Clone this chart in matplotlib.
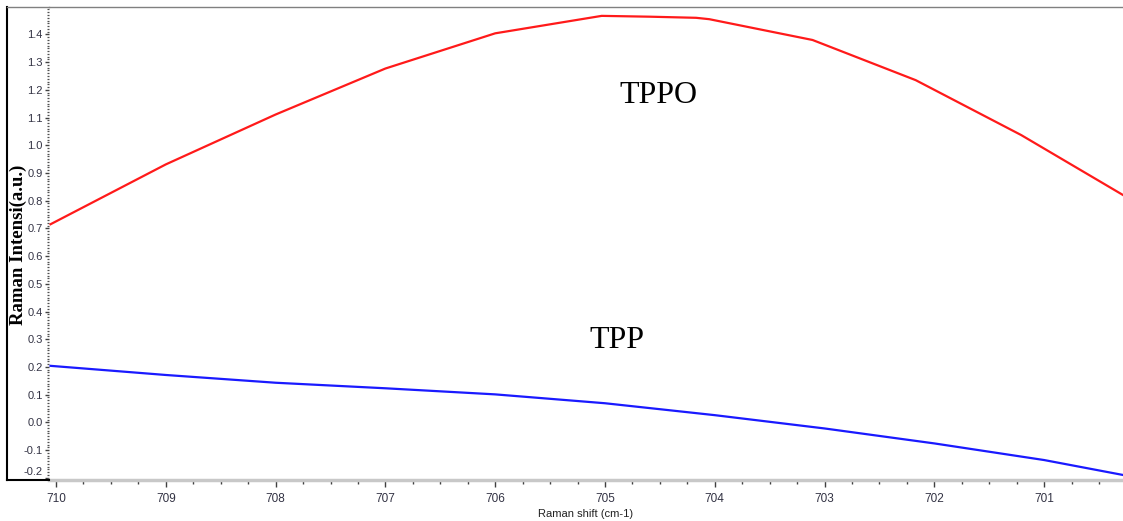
import matplotlib
matplotlib.use('Agg')
import matplotlib.pyplot as plt
import matplotlib.transforms as mtransforms
from matplotlib.lines import Line2D
from matplotlib.ticker import MultipleLocator, FormatStrFormatter

matplotlib.rcParams.update({'font.family': 'Liberation Sans',
                            'axes.unicode_minus': False})

# Raman spectra around the P-phenyl band
tppo_shift = [710.05, 709.0, 708.0, 707.0, 706.0, 705.03, 704.59, 704.17,
              704.05, 703.11, 702.17, 701.21, 700.28]
tppo_int = [0.715, 0.931, 1.111, 1.277, 1.404, 1.467, 1.464, 1.460,
            1.455, 1.380, 1.235, 1.037, 0.820]

tpp_shift = [710.05, 709.0, 708.0, 707.0, 706.0, 705.0, 704.0, 703.0,
             702.0, 701.0, 700.28]
tpp_int = [0.204, 0.171, 0.143, 0.123, 0.101, 0.069, 0.026, -0.022,
           -0.076, -0.136, -0.190]

W, H = 1123, 521
fig = plt.figure(figsize=(W / 100, H / 100), dpi=100)
ax = fig.add_axes([49 / W, 1 - 480 / H, 1 - 49 / W, 473 / H])

ax.plot(tppo_shift, tppo_int, color='#ff1a1a', lw=1.6)
ax.plot(tpp_shift, tpp_int, color='#1a1aff', lw=1.6)

ax.set_xlim(710.064, 700.282)
ax.set_ylim(-0.208, 1.499)

ax.xaxis.set_major_locator(MultipleLocator(1))
ax.xaxis.set_minor_locator(MultipleLocator(0.25))
ax.xaxis.set_major_formatter(FormatStrFormatter('%d'))
ax.yaxis.set_major_locator(MultipleLocator(0.1))
ax.yaxis.set_minor_locator(MultipleLocator(0.01))
ax.yaxis.set_major_formatter(FormatStrFormatter('%.1f'))

for side in ('left', 'right'):
    ax.spines[side].set_visible(False)
ax.spines['top'].set_color('#808080')
ax.spines['top'].set_linewidth(1)
ax.spines['bottom'].set_color('#c8c8c8')
ax.spines['bottom'].set_linewidth(2.5)

ax.tick_params(axis='y', which='major', length=3, width=1, color='#404040',
               pad=1.5, labelsize=8, labelcolor='#333344')
ax.tick_params(axis='y', which='minor', length=1.5, width=0.9, color='#505050')
ax.tick_params(axis='x', which='major', length=5, width=1, color='#404040',
               pad=4, labelsize=8.5, labelcolor='#333344')
ax.tick_params(axis='x', which='minor', length=3, width=1, color='#404040')

ax.set_xlabel('Raman shift (cm-1)', fontsize=8, color='#222222', labelpad=3)

# outer frame on the left and top
frame = dict(transform=fig.transFigure, color='black', lw=1.5)
fig.add_artist(Line2D([7 / W, 7 / W], [1 - 7 / H, 1 - 480 / H], **frame))
fig.add_artist(Line2D([7 / W, 49 / W], [1 - 480 / H, 1 - 480 / H], **frame))
fig.add_artist(Line2D([7 / W, 49 / W], [1 - 7 / H, 1 - 7 / H],
                      transform=fig.transFigure, color='#808080', lw=1))

# y label, the unit sits over the end of the word
fig.text(18 / W, 1 - 325 / H, 'Raman Intensi(a.u.)', family='Liberation Serif',
         fontweight='bold', fontsize=13.5, rotation=90, ha='center', va='bottom')

ax.text(704.51, 1.152, 'TPPO', family='Liberation Serif', fontsize=23,
        ha='center', va='baseline')
ax.text(704.89, 0.268, 'TPP', family='Liberation Serif', fontsize=23,
        ha='center', va='baseline')

# lift the lowest tick label off the x axis
fig.canvas.draw()
for lab in ax.get_yticklabels():
    if lab.get_text() == '-0.2':
        lab.set_transform(lab.get_transform() +
                          mtransforms.ScaledTranslation(0, 0.07, fig.dpi_scale_trans))

fig.savefig('out.png', dpi=100)
